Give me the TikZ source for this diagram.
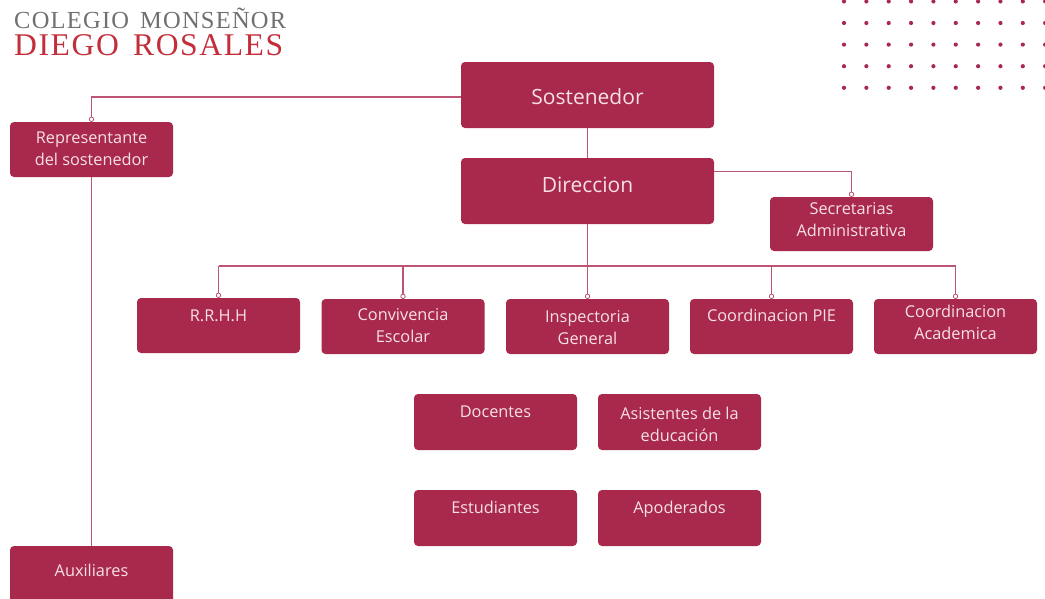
\documentclass[tikz,border=0pt]{standalone}
\usepackage{fontspec}
\setmainfont{Open Sans}
\newfontfamily\titlefont[LetterSpace=5,WordSpace=1.5]{Liberation Serif}
\usetikzlibrary{calc}
\definecolor{boxc}{HTML}{A8294B}
\definecolor{linec}{HTML}{BC5574}
\definecolor{txtc}{HTML}{F7E1E6}
\definecolor{grayt}{HTML}{707070}
\definecolor{redt}{HTML}{C42E3A}
\tikzset{
  box/.style={fill=boxc, rounded corners=4pt, inner sep=0pt, draw=none},
  sbox/.style={box, minimum width=163pt, minimum height=55pt},
  bbox/.style={box, minimum width=253pt, minimum height=66pt},
  stxt/.style={text=txtc, font=\fontsize{16.3}{22}\selectfont, align=center, inner sep=0pt},
  one/.style={text height=12pt, text depth=4pt},
  btxt/.style={text=txtc, font=\fontsize{21}{24}\selectfont, inner sep=0pt},
  conn/.style={draw=linec, line width=1.2pt},
  endc/.style={circle, draw=linec, fill=white, line width=0.8pt, minimum size=4.5pt, inner sep=0pt},
  dotc/.style={fill=boxc}
}
\begin{document}
\begin{tikzpicture}[x=1pt,y=-1pt]
\useasboundingbox (0,0) rectangle (1045,598);
\fill[white] (0,0) rectangle (1045,598);
% title
\node[anchor=base west, inner sep=0pt, text=grayt, text depth=0pt] (t1) at (14,28.3) {\resizebox{272pt}{!}{\fontsize{23.4}{26}\titlefont COLEGIO MONSEÑOR}};
\node[anchor=base west, inner sep=0pt, text=redt, text height=19pt, text depth=0pt] (t2) at (14,55.5) {\resizebox{269pt}{!}{\fontsize{28.7}{30}\titlefont DIEGO ROSALES}};
% dots
\foreach \i in {0,...,9}{
  \foreach \j in {0,...,4}{
    \fill[dotc] (844+22.35*\i, 1.4+21.6*\j) circle (2.1pt);
  }
}
% boxes
\node[bbox] (sost) at (587.5,95) {};
\node[bbox] (dir) at (587.5,191) {};
\node[sbox] (rep) at (91.5,149.5) {};
\node[sbox, minimum height=54pt] (sec) at (851.5,224) {};
\node[sbox] (rrhh) at (218.5,325.5) {};
\node[sbox] (conv) at (403,326.5) {};
\node[sbox] (insp) at (587.5,326.5) {};
\node[sbox] (pie) at (771.5,326.5) {};
\node[sbox] (acad) at (955.5,326.5) {};
\node[sbox, minimum height=56pt] (doc) at (495.5,422) {};
\node[sbox, minimum height=56pt] (asis) at (679.5,422) {};
\node[sbox, minimum height=56pt] (est) at (495.5,518) {};
\node[sbox, minimum height=56pt] (apo) at (679.5,518) {};
\node[sbox, minimum height=57pt] (aux) at (91.5,574.5) {};
% texts
\node[btxt] (sost-t) at (587.5,97) {Sostenedor};
\node[btxt] (dir-t) at (587.5,185) {Direccion};
\node[stxt] (rep-t) at (91.5,149) {Representante\\del sostenedor};
\node[stxt] (sec-t) at (851.5,220) {Secretarias\\Administrativa};
\node[stxt, one] (rrhh-t) at (218.5,317) {R.R.H.H};
\node[stxt] (conv-t) at (403,326) {Convivencia\\Escolar};
\node[stxt] (insp-t) at (587.5,328) {Inspectoria\\General};
\node[stxt, one] (pie-t) at (771.5,317) {Coordinacion PIE};
\node[stxt] (acad-t) at (955.5,322) {Coordinacion\\Academica};
\node[stxt, one] (doc-t) at (495.5,413) {Docentes};
\node[stxt] (asis-t) at (679.5,424) {Asistentes de la\\educación};
\node[stxt, one] (est-t) at (495.5,509) {Estudiantes};
\node[stxt, one] (apo-t) at (679.5,509) {Apoderados};
\node[stxt, one] (aux-t) at (91.5,572) {Auxiliares};
% connectors
\coordinate (bus) at (587.5,266);
\coordinate (dirr) at ($(dir.north east)+(0,14)$);
\draw[conn] ($(sost.west)+(0,2)$) -| (rep.north);
\draw[conn] (rep.south) -- (aux.north);
\draw[conn] (sost.south) -- (dir.north);
\draw[conn] (dirr) -| (sec.north);
\draw[conn] (dir.south) -- (bus);
\draw[conn] (rrhh.north |- bus) -- (acad.north |- bus);
\foreach \b in {rrhh,conv,insp,pie,acad}{
  \draw[conn] (\b.north |- bus) -- (\b.north);
}
\foreach \b in {rep,sec,rrhh,conv,insp,pie,acad}{
  \node[endc] at ($(\b.north)+(0,-2.5)$) {};
}
\end{tikzpicture}
\end{document}
